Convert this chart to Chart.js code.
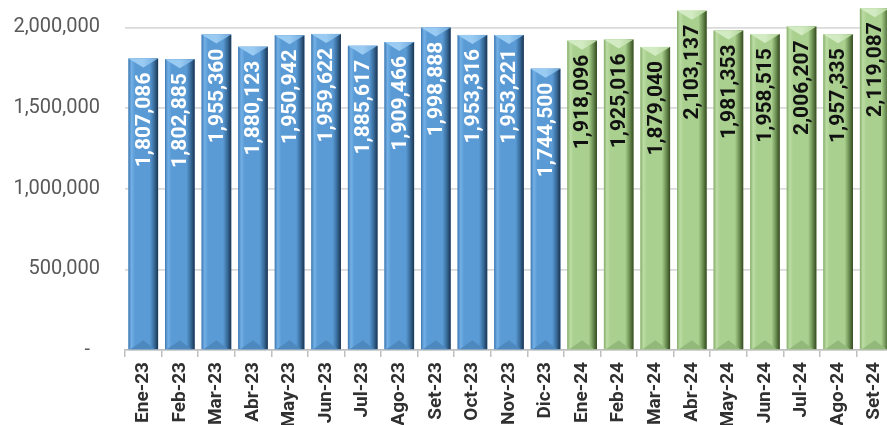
<!DOCTYPE html>
<html>
<head>
<meta charset="utf-8">
<script src="https://cdn.jsdelivr.net/npm/chart.js@4"></script>
<style>
html,body{margin:0;padding:0;background:#fff;overflow:hidden;}
#wrap{position:relative;width:893px;height:425px;}
</style>
</head>
<body>
<div id="wrap"><canvas id="c"></canvas></div>
<script>
const months2023 = ['Ene-23','Feb-23','Mar-23','Abr-23','May-23','Jun-23','Jul-23','Ago-23','Set-23','Oct-23','Nov-23','Dic-23'];
const values2023 = [1807086,1802885,1955360,1880123,1950942,1959622,1885617,1909466,1998888,1953316,1953221,1744500];
const months2024 = ['Ene-24','Feb-24','Mar-24','Abr-24','May-24','Jun-24','Jul-24','Ago-24','Set-24'];
const values2024 = [1918096,1925016,1879040,2103137,1981353,1958515,2006207,1957335,2119087];
const yTicks = [0,500000,1000000,1500000,2000000];

const labels = months2023.concat(months2024);
const values = values2023.concat(values2024);
const seriesOf = values2023.map(()=>0).concat(values2024.map(()=>1));

const palettes = [
  {edgeL:'#3f78b0', light:'#72b0e6', mid:'#5b9bd5', dark:'#3a6f9f', edgeR:'#1b3450',
   top1:'#9acbf2', top2:'#6fa9dd', bottom:'#4d88bf', text:'#ffffff'},
  {edgeL:'#86ad6a', light:'#bcdca5', mid:'#a9d08e', dark:'#6f9356', edgeR:'#34491f',
   top1:'#d3ebc3', top2:'#b1d598', bottom:'#93b97a', text:'#111111'}
];

const bevelPlugin = {
  id:'bevel',
  afterDatasetsDraw(chart){
    const ctx = chart.ctx;
    const meta = chart.getDatasetMeta(0);
    meta.data.forEach((bar,i)=>{
      const p = bar.getProps(['x','y','base','width'], true);
      const l = p.x - p.width/2, r = p.x + p.width/2, t = p.y, b = p.base;
      const pal = palettes[seriesOf[i]];
      ctx.save();
      const g = ctx.createLinearGradient(l,0,r,0);
      g.addColorStop(0, pal.edgeL);
      g.addColorStop(0.1, pal.light);
      g.addColorStop(0.22, pal.mid);
      g.addColorStop(0.72, pal.mid);
      g.addColorStop(0.86, pal.dark);
      g.addColorStop(1, pal.edgeR);
      ctx.fillStyle = g;
      ctx.fillRect(l, t, p.width, b - t);
      const d = 9;
      const gt = ctx.createLinearGradient(l,0,r,0);
      gt.addColorStop(0, pal.top1);
      gt.addColorStop(0.5, pal.top1);
      gt.addColorStop(1, pal.top2);
      ctx.fillStyle = gt;
      ctx.beginPath(); ctx.moveTo(l,t); ctx.lineTo(r,t); ctx.lineTo(p.x,t+d); ctx.closePath(); ctx.fill();
      ctx.fillStyle = pal.bottom;
      ctx.beginPath(); ctx.moveTo(l+2,b); ctx.lineTo(r-3,b); ctx.lineTo(p.x,b-d); ctx.closePath(); ctx.fill();
      // value label
      ctx.translate(p.x, t + 14);
      ctx.rotate(-Math.PI/2);
      ctx.font = 'bold 21px Roboto';
      ctx.fillStyle = pal.text;
      ctx.textAlign = 'right';
      ctx.textBaseline = 'middle';
      ctx.fillText(values[i].toLocaleString('en-US'), 0, 1);
      ctx.restore();
    });
  }
};

new Chart(document.getElementById('c'), {
  type:'bar',
  data:{
    labels: labels,
    datasets:[{
      data: values,
      backgroundColor: seriesOf.map(s => palettes[s].mid),
      borderWidth:0,
      barPercentage:0.81,
      categoryPercentage:1
    }]
  },
  options:{
    responsive:true,
    maintainAspectRatio:false,
    animation:false,
    layout:{padding:0},
    plugins:{legend:{display:false}, tooltip:{enabled:false}},
    scales:{
      x:{
        grid:{display:true, drawOnChartArea:false, drawTicks:true, tickLength:7, color:'#bfbfbf', lineWidth:1.5},
        border:{display:true, color:'#bfbfbf', width:1.5},
        ticks:{maxRotation:90, minRotation:90, autoSkip:false, padding:5,
          color:'#303030', font:{family:'Roboto', size:19, weight:'bold'}},
        afterFit(s){ s.height = 75; s.paddingLeft = 0; s.paddingRight = 0; }
      },
      y:{
        min:0, max:2170000,
        grid:{color:'#dadada', lineWidth:1.7, drawTicks:false},
        border:{display:false},
        afterBuildTicks(s){ s.ticks = yTicks.map(v => ({value:v})); },
        ticks:{padding:25, color:'#595959', font:{family:'Roboto', size:20},
          callback:(v)=> v === 0 ? '-  ' : Number(v).toLocaleString('en-US')},
        afterFit(s){ s.width = 125; s.paddingTop = 0; s.paddingBottom = 0; }
      }
    }
  },
  plugins:[bevelPlugin]
});
</script>
</body>
</html>
